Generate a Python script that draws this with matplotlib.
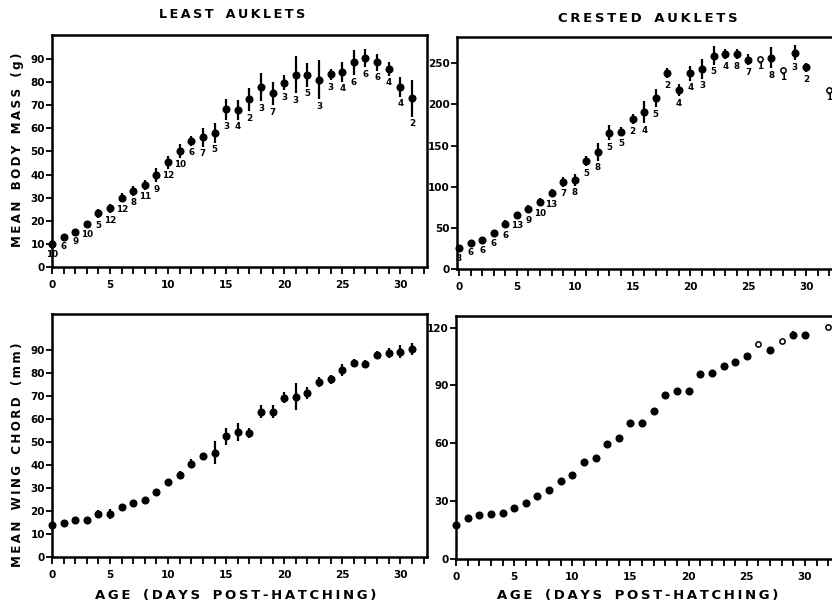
import numpy as np
import matplotlib.pyplot as plt
from matplotlib.ticker import MultipleLocator

# ===============================
# DATA
# ===============================
least_days = list(range(0, 32))
least_mass = [10, 13.1, 15.3, 18.5, 23.2, 25.4, 30, 32.9, 35.5, 39.8, 45.3, 50.2,
              54.7, 56.1, 58.1, 68.3, 68, 72.6, 77.8, 75.2, 79.8, 83.1, 83.1, 81,
              83.4, 84.5, 88.6, 90.3, 88.6, 85.7, 78, 73]
least_mass_se = [1.5, 1, 1, 1.5, 2, 2, 2, 2, 2, 3, 2.7, 2.9, 2.2, 4, 4.3, 4.5, 4.2,
                 5, 6, 5, 3.2, 8, 5, 8.5, 2.5, 4.3, 5.4, 3.9, 3.6, 2.9, 4.3, 7.9]
least_n = [10, 6, 9, 10, 5, 12, 12, 8, 11, 9, 12, 10, 6, 7, 5, 3, 4, 2, 3, 7, 3, 3,
           5, 3, 3, 4, 6, 6, 6, 4, 4, 2]
least_wing = [13.7, 14.8, 15.9, 16.2, 18.8, 18.5, 21.7, 23.4, 24.9, 28.1, 32.4, 35.7,
              40.5, 43.7, 45.4, 52.4, 54.3, 53.8, 63.2, 63.2, 69.3, 69.7, 71.2, 76.2,
              77.3, 81.3, 84.2, 83.9, 87.8, 88.6, 89.3, 90.3]
least_wing_se = [0.5, 0.5, 0.5, 0.7, 1.5, 2.2, 1.2, 1.5, 1.2, 1.5, 1.5, 1.8, 2, 1.5,
                 4.8, 3.8, 4, 2.2, 2.9, 2.7, 2.5, 6, 2.6, 2.2, 2, 2.7, 1.7, 1.8, 1.6,
                 2.2, 2.9, 2.5]

crested_days = list(range(0, 31)) + [32]
crested_mass = [25.2, 32, 35.3, 43.4, 54.4, 65.7, 72.6, 81.5, 92, 106.2, 108.3, 131.4,
                142.7, 165.8, 167, 182, 190.6, 207.7, 238, 217.8, 238, 243.3, 259.5,
                261.2, 261.2, 254.3, 255, 257, 242, 263, 245, 217]
crested_mass_se = [3, 3, 4, 4, 5, 4, 5, 5, 5, 6, 7, 6.5, 11, 9, 5, 6, 13, 11, 6, 7.5,
                   9, 12, 11, 6.5, 6.5, 6.5, 0, 13, 0, 9, 6, 0]
crested_n = [8, 6, 6, 6, 6, 13, 9, 10, 13, 7, 8, 5, 8, 5, 5, 2, 4, 5, 2, 4, 4, 3, 5,
             4, 8, 7, 1, 8, 1, 3, 2, 1]
crested_wing = [17.7, 21.2, 22.9, 23.4, 24.1, 26.4, 29, 32.7, 35.9, 40.5, 43.6, 50.5,
                52.6, 59.5, 62.9, 70.7, 70.4, 76.9, 84.8, 87.2, 87, 95.9, 96.2, 100,
                101.9, 105.3, 111.4, 108.3, 113.1, 116.4, 116, 120.3]
crested_wing_se = [0.8, 0.8, 0.8, 0.8, 0.8, 0.8, 0.8, 1, 1, 1.5, 1.5, 1.5, 1.2, 1.5,
                   1.5, 1.5, 1.5, 1.2, 1.8, 1.5, 1.5, 1.2, 1.8, 1.5, 1.5, 1.2, 0, 1.5,
                   0, 1.8, 1.8, 0]

least_yticks = list(range(0, 100, 10))
crested_mass_yticks = [0, 50, 100, 150, 200, 250]
crested_wing_yticks = [0, 30, 60, 90, 120]

BOLD = dict(fontweight="bold", family="DejaVu Sans")


def spaced(s):
    # mimic the wide letter spacing of the original lettering
    return "\u2009".join(s).replace("\u2009 \u2009", "\u2009\u2009 \u2009")


def draw(ax, days, vals, se, n=None):
    days = np.array(days)
    vals = np.array(vals)
    se = np.array(se)
    if n is None:
        single = se == 0
    else:
        single = np.array(n) == 1
    full = ~single
    ax.errorbar(days[full], vals[full], yerr=se[full], fmt="o", color="black",
                ms=4.8, elinewidth=1.6, capsize=0, clip_on=False, zorder=3)
    ax.plot(days[single], vals[single], "o", mfc="white", mec="black", mew=1.1,
            ms=3.8, clip_on=False, zorder=3)
    if n is not None:
        for d, v, e, k in zip(days, vals, se, n):
            ax.annotate(str(k), (d, v - e), xytext=(0, -2), textcoords="offset points",
                        ha="center", va="top", fontsize=6.3, annotation_clip=False,
                        **BOLD)


def style(ax, ylim, yticks, xlim):
    ax.set_xlim(*xlim)
    ax.set_ylim(*ylim)
    ax.xaxis.set_major_locator(MultipleLocator(5))
    ax.xaxis.set_minor_locator(MultipleLocator(1))
    ax.set_yticks(yticks)
    ax.tick_params(axis="both", which="both", direction="out", width=1.3)
    ax.tick_params(axis="x", which="both", length=5, pad=4)
    ax.tick_params(axis="y", length=4, pad=1)
    for sp in ax.spines.values():
        sp.set_linewidth(1.8)
    for lab in ax.get_xticklabels() + ax.get_yticklabels():
        lab.set_fontweight("bold")
        lab.set_fontsize(7.5)


W, H = 832, 610
fig = plt.figure(figsize=(W / 100, H / 100), dpi=100)


def box(l, r, t, b):
    return [l / W, (H - b) / H, (r - l) / W, (b - t) / H]


ax1 = fig.add_axes(box(52, 427, 35, 267))
ax2 = fig.add_axes(box(457, 834, 37, 269))
ax3 = fig.add_axes(box(52, 427, 314, 557))
ax4 = fig.add_axes(box(456, 834, 316, 559))

draw(ax1, least_days, least_mass, least_mass_se, least_n)
draw(ax2, crested_days, crested_mass, crested_mass_se, crested_n)
draw(ax3, least_days, least_wing, least_wing_se)
draw(ax4, crested_days, crested_wing, crested_wing_se)

style(ax1, (0, 100.4), least_yticks, (0, 32.3))
style(ax2, (0, 282), crested_mass_yticks, (-0.17, 32.4))
style(ax3, (0, 105.6), least_yticks, (0, 32.3))
style(ax4, (0, 126), crested_wing_yticks, (0, 32.5))

fig.text(232 / W, 1 - 15 / H, spaced("LEAST AUKLETS"), ha="center", va="center",
         fontsize=9.2, **BOLD)
fig.text(648 / W, 1 - 18 / H, spaced("CRESTED AUKLETS"), ha="center", va="center",
         fontsize=9.5, **BOLD)
fig.text(236 / W, 1 - 596 / H, spaced("AGE (DAYS POST-HATCHING)"), ha="center",
         va="center", fontsize=9.5, **BOLD)
fig.text(638 / W, 1 - 596 / H, spaced("AGE (DAYS POST-HATCHING)"), ha="center",
         va="center", fontsize=9.5, **BOLD)
fig.text(18 / W, 1 - 150 / H, spaced("MEAN BODY MASS (g)"), ha="center", va="center",
         rotation=90, fontsize=8.6, **BOLD)
fig.text(18 / W, 1 - 455 / H, spaced("MEAN WING CHORD (mm)"), ha="center",
         va="center", rotation=90, fontsize=8.6, **BOLD)

fig.savefig("out.png", dpi=100)
